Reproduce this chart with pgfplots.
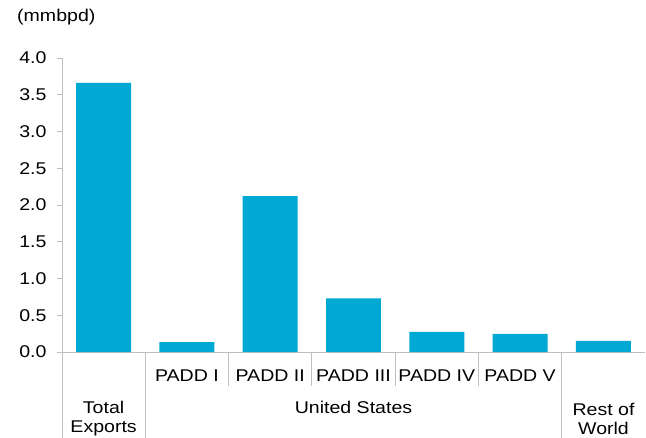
\documentclass[border=0pt]{standalone}
\usepackage{fontspec}
\setmainfont{Liberation Sans}[FakeStretch=1.15]
\usepackage{pgfplots}
\pgfplotsset{compat=1.18}
\definecolor{barc}{RGB}{0,169,212}
\definecolor{axc}{RGB}{191,191,191}
\newcommand{\ff}{\fontsize{17bp}{19bp}\selectfont}
\begin{document}
\begin{tikzpicture}[font=\ff]
\begin{axis}[
  at={(0,0)}, anchor=south west,
  scale only axis, width=583bp, height=294bp,
  xmin=-0.5, xmax=6.5, ymin=0, ymax=4,
  ytick={0,0.5,...,4},
  axis x line=bottom, axis y line=left,
  axis line style={draw=axc, line width=0.8pt, -},
  x axis line style={-}, y axis line style={-},
  xtick={0.5,1.5,...,5.5}, xticklabels={},
  xtick style={draw=none},
  ytick style={draw=axc, line width=0.8pt},
  tick align=outside, major tick length=5bp,
  ticklabel style={font=\ff, text=black},
  yticklabel style={xshift=-7bp, /pgf/number format/fixed, /pgf/number format/fixed zerofill, /pgf/number format/precision=1, /pgf/number format/assume math mode=true},
  clip=false,
]
\addplot[ybar, bar width=0.66, fill=barc, draw=none] coordinates {
  (0,3.66) (1,0.135) (2,2.12) (3,0.73) (4,0.275) (5,0.245) (6,0.15)
};
\end{axis}
\begin{scope}[axc, line width=0.8pt]
  \draw (0,0) -- (0,-86bp);
  \draw (83.29bp,0) -- (83.29bp,-86bp);
  \draw (499.71bp,0) -- (499.71bp,-86bp);
  \foreach \k in {2,3,4,5} { \draw (\k*83.29bp,0) -- (\k*83.29bp,-34bp); }
\end{scope}
\foreach \lab [count=\i from 1] in {PADD I, PADD II, PADD III, PADD IV, PADD V} {
  \node[anchor=center, inner sep=0pt] at ({(\i+0.5)*83.29bp},-25.5bp) {\strut\lab};
}
\node[align=center, inner sep=0pt] at (41.6bp,-66.5bp) {Total\\Exports};
\node[inner sep=0pt] at (291.5bp,-58bp) {\strut United States};
\node[align=center, inner sep=0pt] at (541.5bp,-66.5bp) {Rest of\\World};
\node[anchor=west, inner sep=0pt] at (-45bp,335bp) {(mmbpd)};
\pgfresetboundingbox
\path (-62bp,-86bp) rectangle (584bp,352bp);
\end{tikzpicture}
\end{document}
